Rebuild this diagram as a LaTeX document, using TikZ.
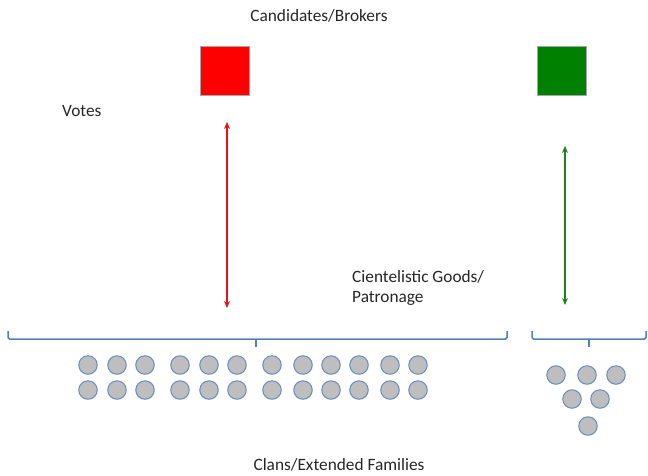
\documentclass[tikz,border=0pt]{standalone}
\usepackage{fontspec}
\setmainfont{Carlito}
\usetikzlibrary{arrows.meta}
\definecolor{boxred}{RGB}{255,0,0}
\definecolor{boxgreen}{RGB}{0,128,0}
\definecolor{linkred}{RGB}{230,20,20}
\definecolor{linkgreen}{RGB}{30,130,30}
\definecolor{bracketblue}{RGB}{79,129,189}
\definecolor{dotfill}{RGB}{190,190,190}
\definecolor{dotedge}{RGB}{105,140,190}
\tikzset{
  label text/.style={font=\fontsize{17.3}{19.5}\selectfont, inner sep=0pt, text=black!85},
  actor/.style={draw=black!35, line width=0.6pt, minimum size=49pt, inner sep=0pt},
  link/.style={line width=1.3pt, {Stealth[length=7pt,width=6pt]}-{Stealth[length=7pt,width=6pt]}},
  bracket/.style={draw=bracketblue, line width=1.5pt, rounded corners=1.5pt},
  member/.style={circle, draw=dotedge, line width=1pt, fill=dotfill, minimum size=18.5pt, inner sep=0pt},
}
\begin{document}
\begin{tikzpicture}[x=1pt, y=-1pt]
  \useasboundingbox (0,0) rectangle (648,475);

  % headings and labels
  \node[label text] (cands) at (319,16) {Candidates/Brokers};
  \node[label text, anchor=west] (votes) at (62,111) {Votes};
  \node[label text, anchor=west, align=left] (goods) at (352,288) {Cientelistic Goods/\\Patronage};
  \node[label text] (clans) at (339,465) {Clans/Extended Families};

  % candidates / brokers
  \node[actor, fill=boxred] (redbox) at (225,71) {};
  \node[actor, fill=boxgreen] (greenbox) at (562,71) {};

  % exchange arrows
  \coordinate (redtop) at (227,122);
  \coordinate (redbot) at (227,308);
  \coordinate (greentop) at (565,146);
  \coordinate (greenbot) at (565,305);
  \draw[link, linkred] (redtop) -- (redbot);
  \draw[link, linkgreen] (greentop) -- (greenbot);

  % brackets over the groups
  \coordinate (bigL) at (8,331);
  \coordinate (bigR) at (507,331);
  \coordinate (bigTick) at (256,339);
  \draw[bracket] (bigL) -- (8,339) -- (507,339) -- (bigR);
  \draw[bracket] (bigTick) -- (256,347);
  \coordinate (smallL) at (532,331);
  \coordinate (smallR) at (646,331);
  \coordinate (smallTick) at (589,339);
  \draw[bracket] (smallL) -- (532,339) -- (646,339) -- (smallR);
  \draw[bracket] (smallTick) -- (589,347);

  % large clan: two rows of twelve
  \foreach \x [count=\i] in {88,117,145,180,209,237,272,303,331,359,390,418} {
    \node[member] (big-a-\i) at (\x,365) {};
    \node[member] (big-b-\i) at (\x,390) {};
  }

  % small clan: inverted triangle
  \node[member] (small-1) at (556,375) {};
  \node[member] (small-2) at (587,375) {};
  \node[member] (small-3) at (616,375) {};
  \node[member] (small-4) at (572,399) {};
  \node[member] (small-5) at (600,399) {};
  \node[member] (small-6) at (588,426) {};
\end{tikzpicture}
\end{document}
